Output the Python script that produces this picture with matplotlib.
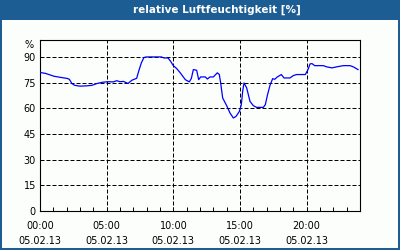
import matplotlib
matplotlib.use("Agg")
import matplotlib.pyplot as plt
from matplotlib.patches import Rectangle

# Humidity readings (hour of day, percent)
hours = [0.0, 0.4, 0.75, 1.05, 1.5, 2.05, 2.2, 2.4, 2.6, 3.0, 3.5, 3.9, 4.25, 4.7,
         5.1, 5.5, 5.75, 6.0, 6.25, 6.6, 6.9, 7.25, 7.4, 7.6, 7.8, 8.0, 9.1, 9.3,
         9.6, 9.8, 10.0, 10.25, 10.5, 10.9, 11.2, 11.35, 11.5, 11.75, 11.9, 12.05,
         12.4, 12.55, 12.75, 13.0, 13.3, 13.45, 13.55, 13.7, 14.0, 14.25, 14.5,
         14.7, 14.95, 15.1, 15.2, 15.3, 15.5, 15.75, 16.0, 16.25, 16.75, 16.9,
         17.05, 17.25, 17.45, 17.6, 17.8, 18.1, 18.3, 18.75, 19.0, 19.25, 19.9,
         20.1, 20.25, 20.4, 20.6, 21.25, 21.5, 21.9, 22.25, 22.75, 23.25, 23.5,
         23.85]
humidity = [81, 80.5, 79.6, 78.8, 78.2, 77.5, 77.0, 74.5, 73.5, 73.0, 73.2, 73.5,
            74.5, 75.3, 75.6, 75.5, 76.2, 75.6, 75.8, 74.6, 76.5, 77.6, 81.7, 86.6,
            89.8, 90.1, 90.1, 89.5, 89.5, 87.5, 85, 83.3, 81, 76.8, 75.5, 77.5,
            82.7, 82.3, 76.8, 78.4, 78.4, 77.2, 78.4, 78.4, 80.8, 79.8, 74.9, 66.1,
            61.6, 57.3, 54.4, 55.3, 58.2, 62.2, 70, 74.9, 72, 64.1, 61.6, 60.6,
            60.6, 62.2, 67.5, 73.5, 77.4, 77, 78.4, 79.8, 77.8, 77.8, 79.2, 79.8,
            79.8, 82.7, 86, 86.2, 85, 85, 84.3, 83.7, 84.3, 85, 85, 84.3, 82.7]

x_ticks = [0, 5, 10, 15, 20]
x_labels = ["00:00\n05.02.13", "05:00\n05.02.13", "10:00\n05.02.13",
            "15:00\n05.02.13", "20:00\n05.02.13"]
y_ticks = [0, 15, 30, 45, 60, 75, 90]

title = "relative Luftfeuchtigkeit [%]"
frame_blue = "#1c5d93"


def draw_chart():
    W, H = 400, 250
    fig = plt.figure(figsize=(4, 2.5), dpi=100, facecolor="#fbfefb")

    # Title bar and thin blue frame
    fig.add_artist(Rectangle((0, 1 - 20 / H), 1, 20 / H, transform=fig.transFigure,
                             facecolor=frame_blue, edgecolor="none"))
    fig.add_artist(Rectangle((0, 0), 2 / W, 1, transform=fig.transFigure,
                             facecolor=frame_blue, edgecolor="none"))
    fig.add_artist(Rectangle((1 - 2 / W, 0), 2 / W, 1, transform=fig.transFigure,
                             facecolor=frame_blue, edgecolor="none"))
    fig.add_artist(Rectangle((0, 0), 1, 2 / H, transform=fig.transFigure,
                             facecolor=frame_blue, edgecolor="none"))
    fig.text(217 / W, 1 - 10 / H, title, color="white", fontweight="bold",
             fontsize=7.5, ha="center", va="center")

    ax = fig.add_axes([40 / W, (H - 211) / H, 320 / W, 171 / H])
    ax.set_facecolor("#fbfefb")
    ax.set_xlim(0, 24)
    ax.set_ylim(0, 100)

    # Dashed grid
    for y in y_ticks[1:]:
        ax.axhline(y, color="black", lw=0.72, dashes=(4, 2), zorder=1)
    for x in x_ticks[1:]:
        ax.axvline(x, color="black", lw=0.72, dashes=(4, 2), zorder=1)

    ax.plot(hours, humidity, color="#0000ff", lw=0.9, zorder=3)

    ax.set_xticks(x_ticks)
    ax.set_xticklabels(x_labels, fontsize=7, linespacing=1.6)
    ax.set_xticks(range(0, 25), minor=True)
    ax.tick_params(axis="x", which="both", direction="in", length=3, width=0.72,
                   pad=7, top=False)
    ax.set_yticks(y_ticks)
    ax.set_yticklabels([str(v) for v in y_ticks], fontsize=7)
    ax.tick_params(axis="y", length=0, pad=3)

    for spine in ax.spines.values():
        spine.set_linewidth(0.8)
        spine.set_color("black")

    fig.text(29 / W, 1 - 45 / H, "%", fontsize=7, ha="center", va="center")

    fig.savefig("out.png", dpi=100, facecolor=fig.get_facecolor())
    plt.close(fig)


if __name__ == "__main__":
    draw_chart()
